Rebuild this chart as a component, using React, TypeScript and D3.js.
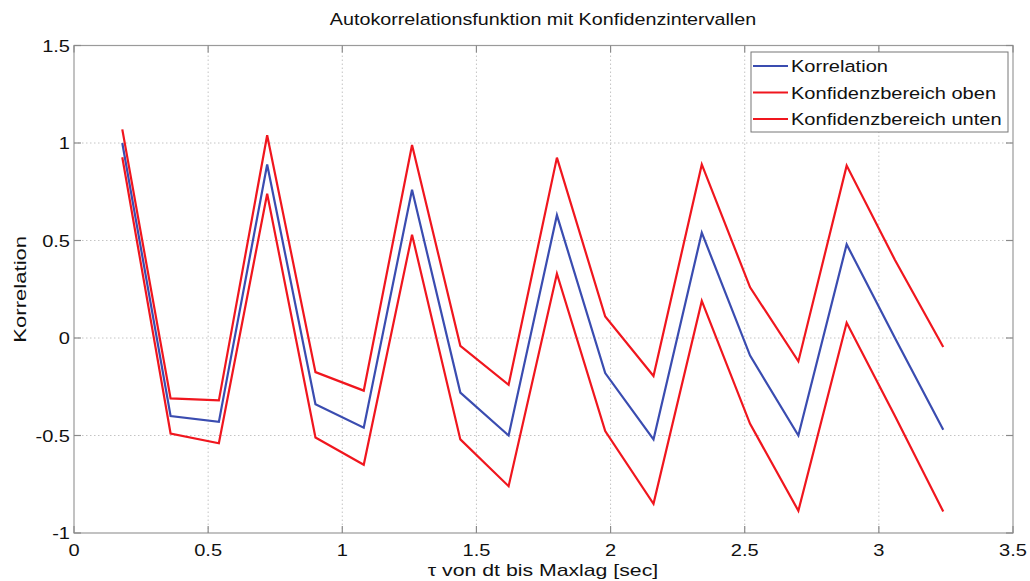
import React, { useEffect, useRef } from 'react';
import * as d3 from 'd3';

// lag values (sec)
const lags = [0.18, 0.36, 0.54, 0.72, 0.9, 1.08, 1.26, 1.44, 1.62, 1.8, 1.98, 2.16, 2.34, 2.52, 2.7, 2.88, 3.06, 3.24];
// autocorrelation
const korrelation = [1.0, -0.4, -0.43, 0.89, -0.34, -0.46, 0.76, -0.28, -0.5, 0.63, -0.18, -0.52, 0.54, -0.09, -0.5, 0.48, 0.0, -0.47];
// upper / lower confidence band
const obere = [1.07, -0.31, -0.32, 1.04, -0.175, -0.27, 0.99, -0.04, -0.24, 0.925, 0.11, -0.195, 0.89, 0.26, -0.12, 0.884, 0.4, -0.046];
const untere = [0.927, -0.49, -0.54, 0.74, -0.51, -0.65, 0.53, -0.52, -0.76, 0.33, -0.477, -0.85, 0.19, -0.44, -0.886, 0.078, -0.4, -0.89];

const xTicks = [0, 0.5, 1, 1.5, 2, 2.5, 3, 3.5];
const yTicks = [-1, -0.5, 0, 0.5, 1, 1.5];

const seriesNames = ['Korrelation', 'Konfidenzbereich oben', 'Konfidenzbereich unten'];
const seriesColors = ['#3a4cb0', '#f0161e', '#f0161e'];

const W = 1030;
const H = 581;
// text in the picture is a bit wider than tall
const SX = 1.18;

export default function App() {
	const ref = useRef<SVGSVGElement>(null);

	useEffect(() => {
		const svg = d3.select(ref.current).style('font-family', 'Arial, "Liberation Sans", sans-serif');
		svg.selectAll('*').remove();

		const x = d3.scaleLinear().domain([0, 3.5]).range([74, 1013]);
		const y = d3.scaleLinear().domain([-1, 1.5]).range([533, 45.5]);

		const label = (px: number, py: number, txt: string, anchor = 'start', rot = 0, sx = SX) =>
			svg
				.append('text')
				.attr('transform', `translate(${px},${py}) rotate(${rot}) scale(${sx},1)`)
				.attr('text-anchor', anchor)
				.attr('font-size', 17)
				.attr('fill', '#111')
				.text(txt);

		svg.append('rect').attr('width', W).attr('height', H).attr('fill', '#fff');

		// grid
		const grid = svg.append('g').attr('stroke', '#c4c4c4').attr('stroke-width', 1).attr('stroke-dasharray', '1.5,2.5');
		grid
			.selectAll('.gx')
			.data(xTicks.slice(1, -1))
			.enter()
			.append('line')
			.attr('x1', d => x(d))
			.attr('x2', d => x(d))
			.attr('y1', y(-1))
			.attr('y2', y(1.5));
		grid
			.selectAll('.gy')
			.data(yTicks.slice(1, -1))
			.enter()
			.append('line')
			.attr('x1', x(0))
			.attr('x2', x(3.5))
			.attr('y1', d => y(d))
			.attr('y2', d => y(d));

		// axes box
		svg
			.append('rect')
			.attr('x', x(0))
			.attr('y', y(1.5))
			.attr('width', x(3.5) - x(0))
			.attr('height', y(-1) - y(1.5))
			.attr('fill', 'none')
			.attr('stroke', '#9a9a9a')
			.attr('stroke-width', 1.2);

		// ticks (inside)
		const ticks = svg.append('g').attr('stroke', '#8a8a8a').attr('stroke-width', 1.2);
		xTicks.forEach(t => {
			ticks.append('line').attr('x1', x(t)).attr('x2', x(t)).attr('y1', y(-1)).attr('y2', y(-1) - 7);
			ticks.append('line').attr('x1', x(t)).attr('x2', x(t)).attr('y1', y(1.5)).attr('y2', y(1.5) + 7);
		});
		yTicks.forEach(t => {
			ticks.append('line').attr('x1', x(0)).attr('x2', x(0) + 7).attr('y1', y(t)).attr('y2', y(t));
			ticks.append('line').attr('x1', x(3.5)).attr('x2', x(3.5) - 7).attr('y1', y(t)).attr('y2', y(t));
		});

		// tick labels
		xTicks.forEach(t => label(x(t), 556, String(t), 'middle'));
		yTicks.forEach(t => label(70, y(t) + 6, String(t), 'end'));

		// series
		const line = d3
			.line<number>()
			.x((d, i) => x(lags[i]))
			.y(d => y(d));
		[korrelation, obere, untere].forEach((vals, k) => {
			svg
				.append('path')
				.attr('d', line(vals))
				.attr('fill', 'none')
				.attr('stroke', seriesColors[k])
				.attr('stroke-width', 2.2)
				.attr('stroke-linejoin', 'miter');
		});

		// title + axis labels
		label(543, 25, 'Autokorrelationsfunktion mit Konfidenzintervallen', 'middle', 0, 1.16);
		label(543, 576, 'τ von dt bis Maxlag [sec]', 'middle', 0, 1.25);
		label(26, y(0.25), 'Korrelation', 'middle', -90, 1.3);

		// legend
		const lg = svg.append('g');
		lg.append('rect')
			.attr('x', 751)
			.attr('y', 52)
			.attr('width', 257)
			.attr('height', 80)
			.attr('fill', '#fff')
			.attr('stroke', '#777')
			.attr('stroke-width', 1);
		seriesNames.forEach((name, i) => {
			const cy = 66 + i * 26.5;
			lg.append('line')
				.attr('x1', 753)
				.attr('x2', 788)
				.attr('y1', cy)
				.attr('y2', cy)
				.attr('stroke', seriesColors[i])
				.attr('stroke-width', 2);
			label(791, cy + 6, name);
		});
	}, []);

	return (
		<svg ref={ref} width={W} height={H} style={{ position: 'absolute', left: 0, top: 0, display: 'block' }} />
	);
}
